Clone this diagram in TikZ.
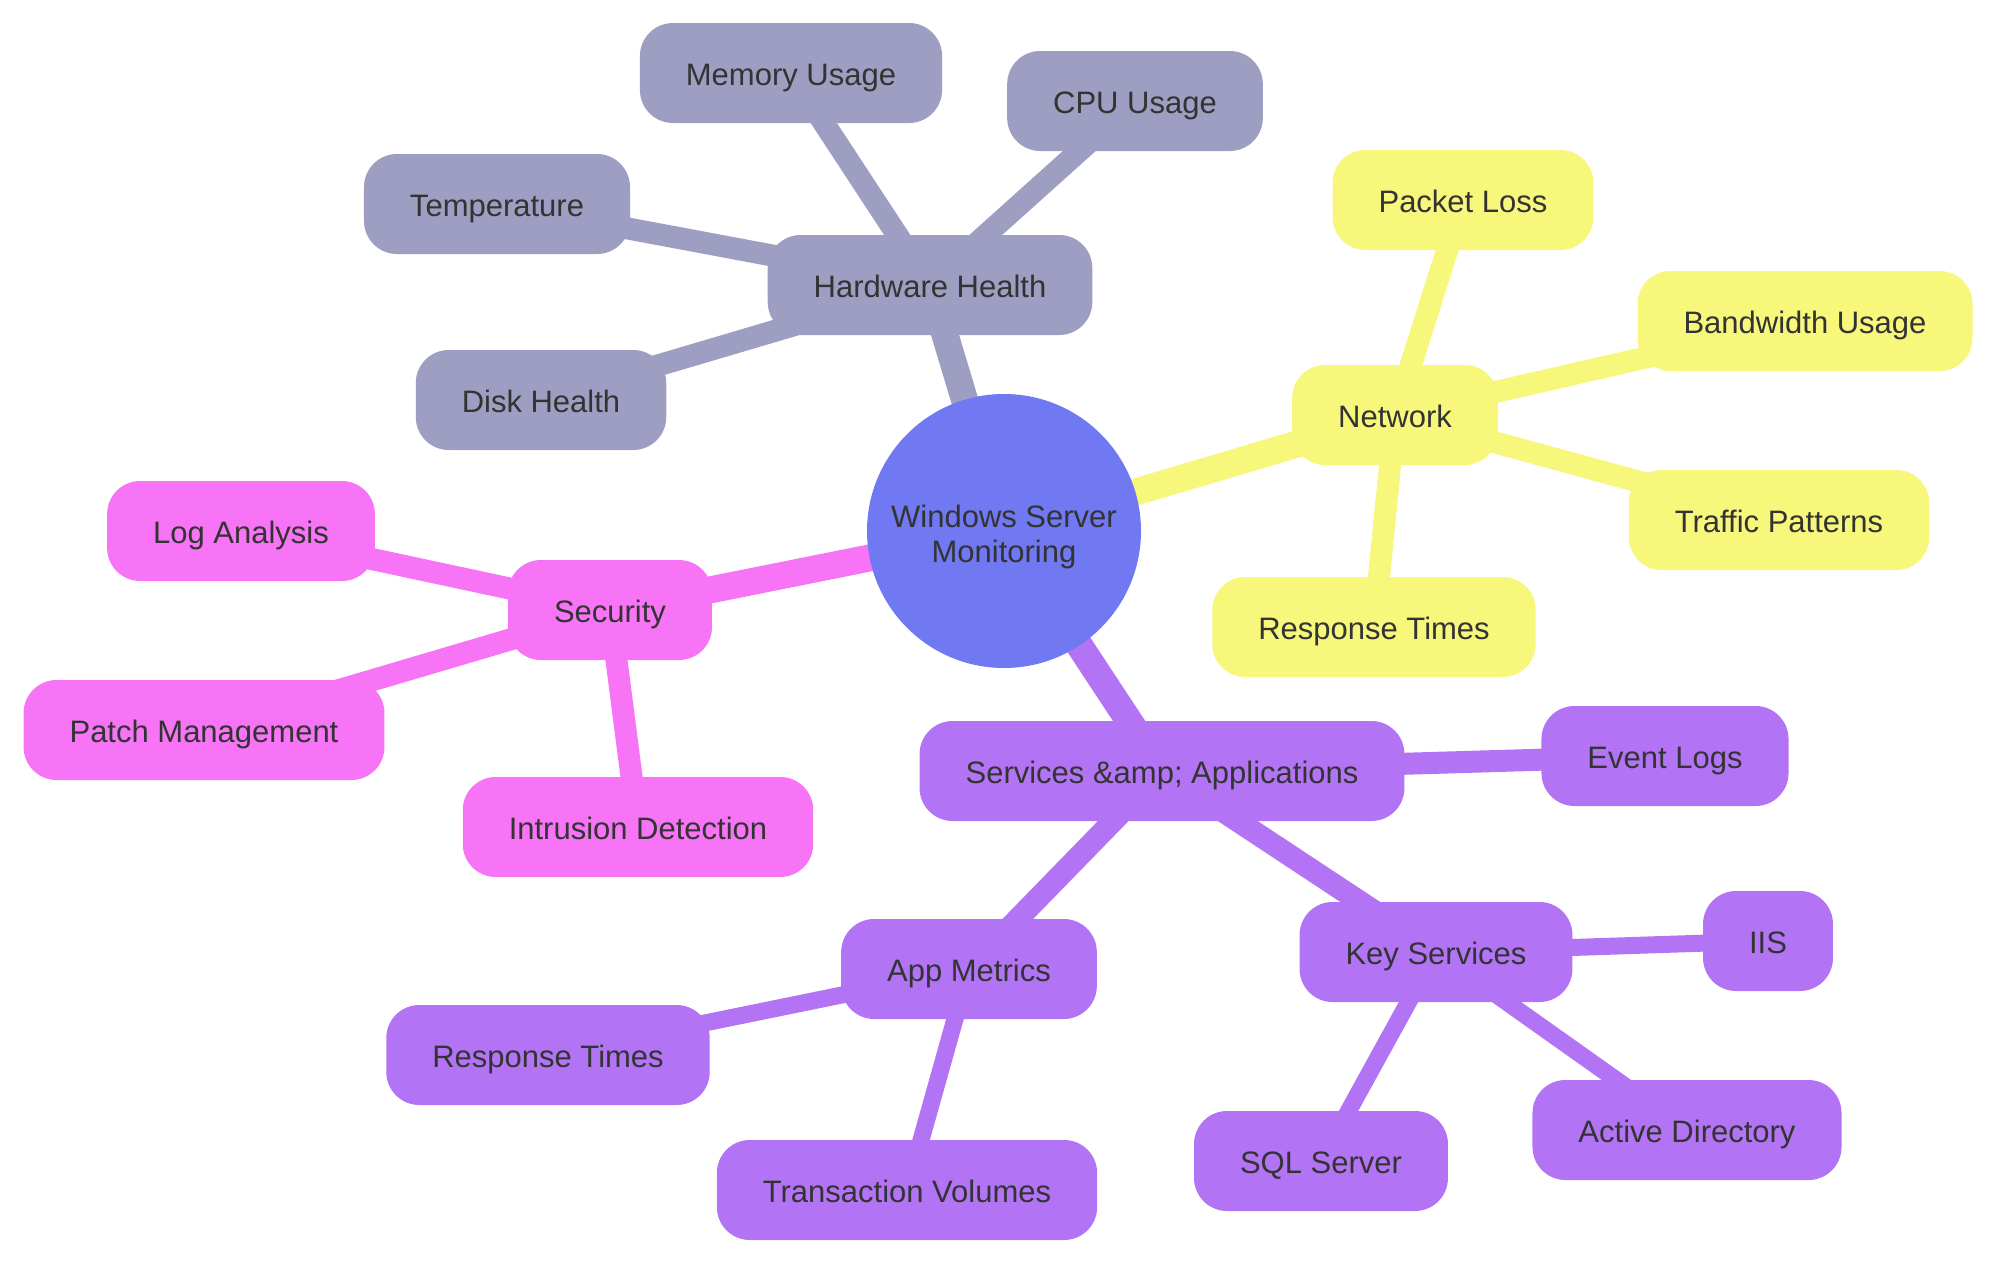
\documentclass[tikz,border=0pt]{standalone}
\usepackage{fontspec}
\setmainfont{Liberation Sans}
\usetikzlibrary{backgrounds}
\definecolor{rootc}{HTML}{7078F2}
\definecolor{hwc}{HTML}{9E9EC2}
\definecolor{netc}{HTML}{F6F77B}
\definecolor{secc}{HTML}{F674F5}
\definecolor{svcc}{HTML}{B274F5}
\definecolor{txt}{HTML}{333333}
\tikzset{
  box/.style={rounded corners=33pt, minimum height=100pt, inner xsep=46pt, inner ysep=0pt,
    text height=28pt, text depth=4pt,
    text=txt, font=\fontsize{31}{37}\selectfont},
  hwbox/.style={box, fill=hwc},
  netbox/.style={box, fill=netc},
  secbox/.style={box, fill=secc},
  svcbox/.style={box, fill=svcc},
  rootnode/.style={circle, fill=rootc, minimum size=274pt, inner sep=0pt},
  roottext/.style={align=center, inner sep=0pt, text=txt, font=\fontsize{31}{34.5}\selectfont},
  e0/.style={line width=27pt},
  e1/.style={line width=22pt},
  e2/.style={line width=17pt},
}
\begin{document}
\begin{tikzpicture}[x=1pt, y=-1pt]
\useasboundingbox (0,0) rectangle (2000,1266);
\node[rootnode] (root) at (1004,531) {};
\node[roottext] (roottxt) at (1004,537) {Windows Server\\Monitoring};

\node[hwbox] (hw) at (930,285) {Hardware Health};
\node[hwbox] (mem) at (791,73) {Memory Usage};
\node[hwbox] (cpu) at (1135,101) {CPU Usage};
\node[hwbox] (temp) at (497,204) {Temperature};
\node[hwbox] (disk) at (541,400) {Disk Health};

\node[netbox] (net) at (1395,415) {Network};
\node[netbox] (pkt) at (1463,200) {Packet Loss};
\node[netbox] (bw) at (1805,321) {Bandwidth Usage};
\node[netbox] (traf) at (1779,520) {Traffic Patterns};
\node[netbox] (rtn) at (1374,627) {Response Times};

\node[secbox] (sec) at (610,610) {Security};
\node[secbox] (log) at (241,531) {Log Analysis};
\node[secbox] (patch) at (204,730) {Patch Management};
\node[secbox] (ids) at (638,827) {Intrusion Detection};

\node[svcbox] (svc) at (1162,771) {Services \&amp; Applications};
\node[svcbox] (ev) at (1665,756) {Event Logs};
\node[svcbox] (app) at (969,969) {App Metrics};
\node[svcbox] (key) at (1436,952) {Key Services};
\node[svcbox] (iis) at (1768,941) {IIS};
\node[svcbox] (ad) at (1687,1130) {Active Directory};
\node[svcbox] (sql) at (1321,1161) {SQL Server};
\node[svcbox] (rta) at (548,1055) {Response Times};
\node[svcbox] (tv) at (907,1190) {Transaction Volumes};

\begin{scope}[on background layer]
\draw[e0, hwc] (root.center) -- (hw.center);
\draw[e0, netc] (root.center) -- (net.center);
\draw[e0, secc] (root.center) -- (sec.center);
\draw[e0, svcc] (root.center) -- (svc.center);

\draw[e1, hwc] (hw.center) -- (mem.center);
\draw[e1, hwc] (hw.center) -- (cpu.center);
\draw[e1, hwc] (hw.center) -- (temp.center);
\draw[e1, hwc] (hw.center) -- (disk.center);

\draw[e1, netc] (net.center) -- (pkt.center);
\draw[e1, netc] (net.center) -- (bw.center);
\draw[e1, netc] (net.center) -- (traf.center);
\draw[e1, netc] (net.center) -- (rtn.center);

\draw[e1, secc] (sec.center) -- (log.center);
\draw[e1, secc] (sec.center) -- (patch.center);
\draw[e1, secc] (sec.center) -- (ids.center);

\draw[e1, svcc] (svc.center) -- (ev.center);
\draw[e1, svcc] (svc.center) -- (app.center);
\draw[e1, svcc] (svc.center) -- (key.center);

\draw[e2, svcc] (key.center) -- (iis.center);
\draw[e2, svcc] (key.center) -- (ad.center);
\draw[e2, svcc] (key.center) -- (sql.center);
\draw[e2, svcc] (app.center) -- (rta.center);
\draw[e2, svcc] (app.center) -- (tv.center);
\end{scope}
\end{tikzpicture}
\end{document}
